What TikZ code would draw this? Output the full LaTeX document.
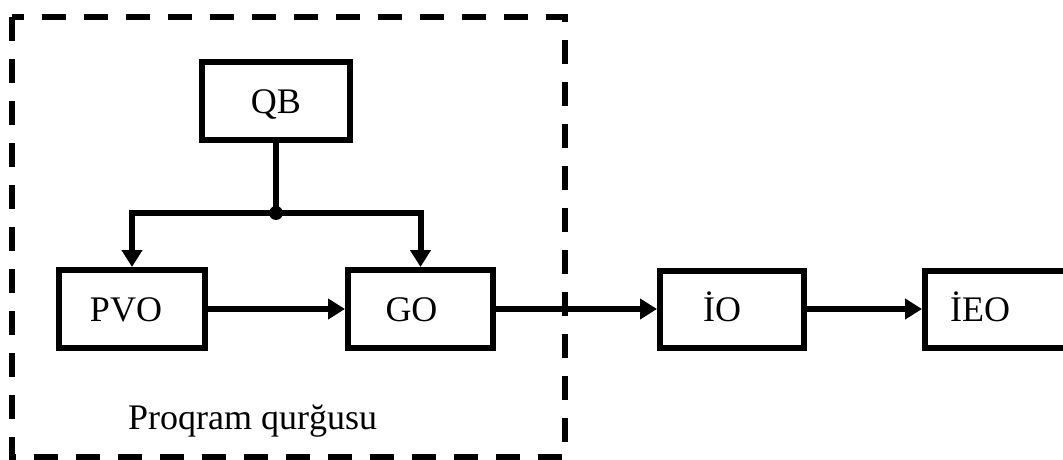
\documentclass[tikz,border=0pt]{standalone}
\usepackage{fontspec}
\setmainfont{Liberation Serif}
\usetikzlibrary{arrows.meta}
\begin{document}
\begin{tikzpicture}[x=1pt,y=-1pt,
  blk/.style={draw, line width=6pt, minimum width=146pt, minimum height=78pt, inner sep=0pt, text height=24pt, text depth=0pt, font=\fontsize{36}{40}\selectfont},
  conn/.style={line width=6pt},
  arr/.style={line width=6pt, -{Triangle[length=17pt,width=20pt]}},
  frame/.style={line width=5.5pt, dash pattern=on 24pt off 18pt},
  lbl/.style={font=\fontsize{36}{40}\selectfont, inner sep=0pt}]
\useasboundingbox (0,0) rectangle (1063,460);
\draw[frame] (12,17) rectangle (565,457);
\node[blk, minimum width=148pt] (qb) at (276,101) {QB};
\node[blk] (pvo) at (132,309) {\kern-12ptPVO};
\node[blk, minimum width=145pt] (go) at (420.5,309) {\kern-18ptGO};
\node[blk, minimum width=144pt, minimum height=77pt] (io) at (732,309) {\kern-20ptİO};
\node[blk, minimum width=150pt, minimum height=77pt] (ieo) at (1000,309) {\kern-40ptİEO};
\coordinate (j) at (276,213);
\draw[conn] (qb.south) -- (j);
\fill (j) circle (7pt);
\draw[arr] (j) -| (pvo.north);
\draw[arr] (j) -| (go.north);
\draw[arr] (pvo.east) -- (go.west);
\draw[arr] (go.east) -- (io.west);
\draw[arr] (io.east) -- (ieo.west);
\node[lbl, anchor=base west] (cap) at (128,429) {Proqram qurğusu};
\end{tikzpicture}
\end{document}
